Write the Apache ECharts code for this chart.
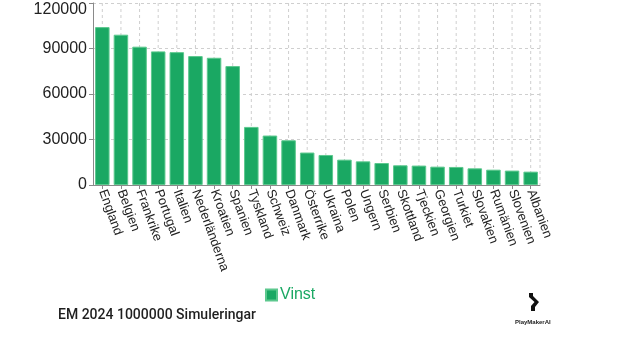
<!DOCTYPE html>
<html>
<head>
<meta charset="utf-8">
<script src="https://cdn.jsdelivr.net/npm/echarts@6/dist/echarts.min.js"></script>
<style>
  html, body { margin: 0; padding: 0; background: #ffffff; }
  #chart { width: 620px; height: 337px; }
</style>
</head>
<body>
<div id="chart"></div>
<script>
// Countries, ordered by number of tournament wins
const countries = [
  'England', 'Belgien', 'Frankrike', 'Portugal', 'Italien', 'Nederländerna',
  'Kroatien', 'Spanien', 'Tyskland', 'Schweiz', 'Danmark', 'Österrike',
  'Ukraina', 'Polen', 'Ungern', 'Serbien', 'Skottland', 'Tjeckien',
  'Georgien', 'Turkiet', 'Slovakien', 'Rumänien', 'Slovenien', 'Albanien'
];

// Simulated wins per country
const wins = [
  104100, 99100, 91200, 88100, 87600, 85000,
  83900, 78400, 38300, 32600, 29500, 21400,
  19800, 16700, 15600, 14500, 13000, 12800,
  12100, 11900, 11000, 10100, 9500, 8800
];

const seriesName = 'Vinst';
const titleText = 'EM 2024 1000000 Simuleringar';
const yTicks = { min: 0, max: 120000, interval: 30000 };

const FONT = '"Liberation Sans", Arial, sans-serif';
const GREEN = '#1aa863';
const GRID_LINE = '#cfcfcf';

const chart = echarts.init(document.getElementById('chart'), null, { renderer: 'canvas' });

// Dashed vertical guides through each category centre, plus the right edge of the plot
function renderGuides(params, api) {
  const i = api.value(0);
  const top = api.coord([i, yTicks.max]);
  const bottom = api.coord([i, yTicks.min]);
  const children = [{
    type: 'line',
    shape: { x1: top[0], y1: top[1], x2: bottom[0], y2: bottom[1] },
    style: { stroke: GRID_LINE, lineWidth: 1, lineDash: [3, 3] }
  }];
  if (params.dataIndex === countries.length - 1) {
    const half = api.size([1, 0])[0] / 2;
    children.push({
      type: 'line',
      shape: { x1: top[0] + half, y1: top[1], x2: bottom[0] + half, y2: bottom[1] },
      style: { stroke: GRID_LINE, lineWidth: 1, lineDash: [3, 3] }
    });
  }
  return { type: 'group', children: children };
}

chart.setOption({
  backgroundColor: '#ffffff',
  animation: false,
  textStyle: { fontFamily: FONT },
  title: {
    text: titleText,
    left: 53,
    top: 303,
    textStyle: { fontSize: 14, fontWeight: 500, color: '#1f1f1f', fontFamily: 'Roboto, ' + FONT }
  },
  legend: {
    data: [seriesName],
    left: 260,
    top: 282,
    icon: 'rect',
    itemWidth: 11,
    itemHeight: 11,
    itemGap: 4,
    textStyle: { color: GREEN, fontSize: 16, fontFamily: FONT, padding: [0, 0, 0, -2] }
  },
  grid: { left: 93, right: 80, top: 3, bottom: 152, containLabel: false },
  xAxis: {
    type: 'category',
    data: countries,
    axisLine: { show: true, lineStyle: { color: '#8a8a8a', width: 1 } },
    axisTick: { show: true, alignWithLabel: true, length: 4, lineStyle: { color: '#8a8a8a' } },
    axisLabel: {
      interval: 0,
      rotate: -70,
      fontSize: 13,
      color: '#222222',
      margin: 5
    },
    splitLine: { show: false }
  },
  yAxis: {
    type: 'value',
    min: yTicks.min,
    max: yTicks.max,
    interval: yTicks.interval,
    axisLine: { show: true, lineStyle: { color: '#8a8a8a', width: 1 } },
    axisTick: { show: true, length: 4, lineStyle: { color: '#8a8a8a' } },
    axisLabel: {
      fontSize: 16,
      color: '#222222',
      margin: 6,
      formatter: function (v) {
        return v === yTicks.max ? '{top|' + v + '}' : String(v);
      },
      rich: {
        top: { fontSize: 16, color: '#222222', padding: [13, 0, 0, 0] }
      }
    },
    splitLine: { show: true, lineStyle: { color: GRID_LINE, type: [3, 3], width: 1 } }
  },
  series: [
    {
      name: 'guides',
      type: 'custom',
      renderItem: renderGuides,
      data: countries.map(function (c, i) { return [i]; }),
      encode: { x: 0 },
      silent: true,
      z: 0
    },
    {
      name: seriesName,
      type: 'bar',
      data: wins,
      barCategoryGap: '22%',
      z: 3,
      itemStyle: { color: GREEN, borderColor: '#5cc88e', borderWidth: 1 }
    }
  ],
  graphic: [
    // PlayMakerAI mark
    {
      type: 'polygon',
      shape: {
        points: [[529, 293], [533, 293], [533, 296], [539, 302], [535, 307], [535, 311],
                 [531, 311], [531, 306], [534.5, 302], [529, 297]]
      },
      style: { fill: '#111111' }
    },
    {
      type: 'text',
      left: 515,
      top: 319,
      style: { text: 'PlayMakerAI', fontSize: 6, fontWeight: 'bold', fill: '#222222', fontFamily: FONT }
    }
  ]
});
</script>
</body>
</html>
